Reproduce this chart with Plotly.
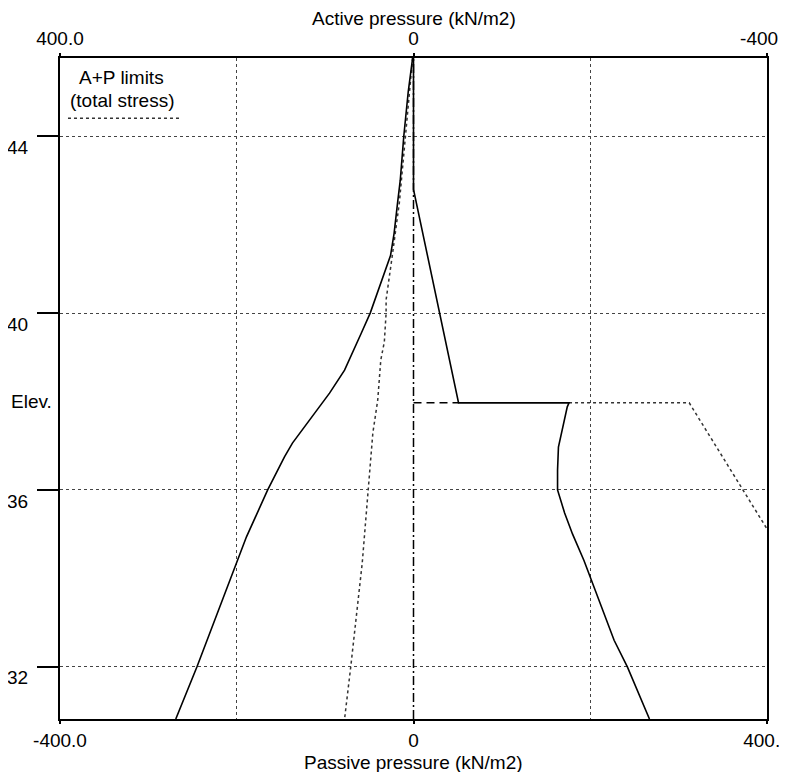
import plotly.graph_objects as go

# ---- axis ranges / ticks ----
elev_range = [30.82, 45.77]
pressure_range = [-400, 400]
elev_ticks = [32, 36, 40, 44]
bottom_tickvals = [-400, 0, 400]
bottom_ticktext = ["-400.0", "0", "400.0"]
top_tickvals = [400, 0, -400]
top_ticktext = ["400.0", "0", "-400.0"]
grid_x = [-200, 200]

# ---- series (pressure kN/m2, elevation) ----
# left side, solid (passive)
elev_left_solid = [45.77, 45.45, 45.0, 44.0, 43.0, 42.5, 41.8, 41.3, 40.6, 40.0, 39.55,
                   38.71, 38.19, 37.06, 36.75, 36.0, 34.94, 34.42, 32.0, 30.82]
pres_left_solid = [-1, -3, -6, -11, -15, -18, -22, -26, -38, -49, -59,
                   -78, -95, -137, -146, -165, -189, -199, -245, -269]

# left side, dotted (A+P limits, total stress)
elev_left_dotted = [45.77, 44.0, 42.5, 41.3, 40.3, 40.0, 39.35, 38.94, 38.03, 37.29,
                    36.0, 34.35, 32.0, 30.82]
pres_left_dotted = [-1, -9, -16, -24, -31, -31, -33, -37, -40.5, -46,
                    -51, -58, -71, -78]

# right side, solid (active then passive below excavation)
elev_right_solid = [45.77, 42.8, 37.97, 37.97, 37.88, 37.42, 36.97, 36.45, 36.0, 35.48,
                    35.0, 34.4, 33.5, 32.6, 32.0, 30.82]
pres_right_solid = [0, 0, 51, 176, 174, 169, 164, 163, 163, 171,
                    180, 193, 210, 227, 242, 267]

# right side, dotted (A+P limits, total stress)
elev_right_dotted = [37.97, 37.97, 35.12]
pres_right_dotted = [176, 312, 400]

# dashed segment at excavation level
elev_dashed = [37.97, 37.97]
pres_dashed = [0, 51]

# zero line
zero_pres = [0, 0]
zero_elev = elev_range

FONT = "Liberation Sans, Arial, sans-serif"

fig = go.Figure()

fig.add_trace(go.Scatter(x=zero_pres, y=zero_elev, mode="lines",
                         line=dict(color="black", width=1.5, dash="9px,3px,2px,3px"),
                         hoverinfo="skip", showlegend=False))
fig.add_trace(go.Scatter(x=pres_left_dotted, y=elev_left_dotted, mode="lines",
                         line=dict(color="#333333", width=1.5, dash="dot"), showlegend=False))
fig.add_trace(go.Scatter(x=pres_right_dotted, y=elev_right_dotted, mode="lines",
                         line=dict(color="#333333", width=1.5, dash="dot"), showlegend=False))
fig.add_trace(go.Scatter(x=pres_dashed, y=elev_dashed, mode="lines",
                         line=dict(color="black", width=1.5, dash="8px,5px"), showlegend=False))
fig.add_trace(go.Scatter(x=pres_left_solid, y=elev_left_solid, mode="lines",
                         line=dict(color="black", width=1.6), showlegend=False))
fig.add_trace(go.Scatter(x=pres_right_solid, y=elev_right_solid, mode="lines",
                         line=dict(color="black", width=1.6), showlegend=False))
# invisible trace for top axis
fig.add_trace(go.Scatter(x=[0], y=[elev_range[0]], xaxis="x2", mode="markers",
                         marker=dict(opacity=0), hoverinfo="skip", showlegend=False))

# the page body adds an 8px offset, so the figure is 8px smaller and margins shifted
fig.update_layout(
    width=779, height=764,
    margin=dict(l=52, r=20, t=50, b=53),
    paper_bgcolor="white", plot_bgcolor="white",
    font=dict(family=FONT, size=19, color="black"),
    xaxis=dict(
        range=pressure_range, tickvals=bottom_tickvals, ticktext=bottom_ticktext,
        ticks="outside", ticklen=3, tickcolor="black", tickwidth=1.5,
        showgrid=False, zeroline=False, automargin=False,
        showline=True, linecolor="black", linewidth=2,
        minor=dict(tickvals=grid_x, showgrid=True, griddash="dot",
                   gridcolor="#444444", gridwidth=1, ticks=""),
        ticklabelstandoff=0, ticklabeloverflow="allow",
    ),
    xaxis2=dict(
        overlaying="x", side="top", anchor="y",
        range=[pressure_range[1], pressure_range[0]],
        tickvals=top_tickvals, ticktext=top_ticktext,
        ticks="outside", ticklen=3, tickcolor="black", tickwidth=1.5,
        showgrid=False, zeroline=False, automargin=False,
        showline=True, linecolor="black", linewidth=2,
        ticklabelstandoff=0, ticklabeloverflow="allow",
    ),
    yaxis=dict(
        range=elev_range, tickvals=elev_ticks,
        ticks="outside", ticklen=21, tickcolor="black", tickwidth=1.5,
        showgrid=True, griddash="dot", gridcolor="#444444", gridwidth=1,
        zeroline=False, showline=True, linecolor="black", linewidth=2, mirror=True,
        ticklabelshift=11, ticklabelstandoff=5, automargin=False,
    ),
    annotations=[
        dict(text="Active pressure (kN/m2)", xref="paper", yref="paper", x=0.5, y=1.0605,
             xanchor="center", yanchor="middle", showarrow=False),
        dict(text="Passive pressure (kN/m2)", xref="paper", yref="paper", x=0.5, y=-0.0655,
             xanchor="center", yanchor="middle", showarrow=False),
        dict(text="Elev.", xref="paper", yref="paper", x=-0.0725, y=0.4796,
             xanchor="left", yanchor="middle", showarrow=False),
        dict(text="A+P limits", xref="paper", yref="paper", x=0.0863, y=0.971,
             xanchor="center", yanchor="middle", showarrow=False),
        dict(text="(total stress)", xref="paper", yref="paper", x=0.089, y=0.936,
             xanchor="center", yanchor="middle", showarrow=False),
    ],
    shapes=[
        dict(type="line", xref="paper", yref="paper", x0=0.0113, x1=0.1697,
             y0=0.909, y1=0.909, line=dict(color="#333333", width=1.5, dash="dot")),
    ],
)

fig.write_html("out.html")
